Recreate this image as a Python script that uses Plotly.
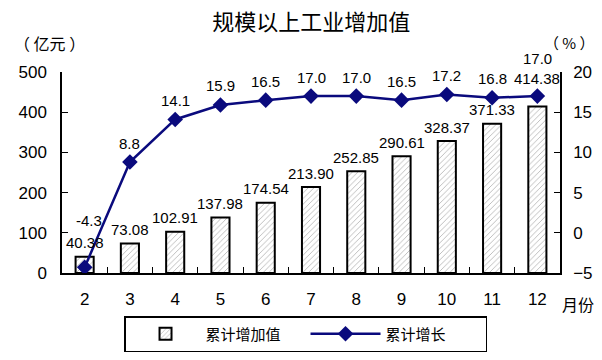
import plotly.graph_objects as go

months = ["2", "3", "4", "5", "6", "7", "8", "9", "10", "11", "12"]
value_added = [40.38, 73.08, 102.91, 137.98, 174.54, 213.90, 252.85, 290.61, 328.37, 371.33, 414.38]
growth = [-4.3, 8.8, 14.1, 15.9, 16.5, 17.0, 17.0, 16.5, 17.2, 16.8, 17.0]
left_ticks = [0, 100, 200, 300, 400, 500]
right_ticks = [-5, 0, 5, 10, 15, 20]

NUM_FONT = "Liberation Sans, Arial, sans-serif"
CJK_FONT = "Noto Sans CJK SC, sans-serif"
NAVY = "#0a0a7d"

fig = go.Figure()
fig.add_trace(go.Bar(
    x=months, y=value_added, name="累计增加值",
    width=0.4,
    marker=dict(color="white", line=dict(color="black", width=2),
                pattern=dict(shape="/", fgcolor="#606060", bgcolor="white", size=4, solidity=0.2)),
    yaxis="y",
))
fig.add_trace(go.Scatter(
    x=months, y=growth, name="累计增长", mode="lines+markers",
    line=dict(color=NAVY, width=2.5),
    marker=dict(symbol="diamond", size=12, color=NAVY),
    yaxis="y2",
))

annotations = []
n = len(months)
for i, v in enumerate(value_added):
    shift = 28 if i == n - 1 else 14
    annotations.append(dict(x=i, y=v, xref="x", yref="y", text=f"{v:.2f}", showarrow=False,
                            yshift=shift, font=dict(family=NUM_FONT, size=15, color="black")))
for i, g in enumerate(growth):
    shift = 19
    if i == 0:
        shift = 47
    elif i == n - 1:
        shift = 38
    annotations.append(dict(x=i, y=g, xref="x", yref="y2", text=f"{g:.1f}", showarrow=False,
                            yshift=shift, xshift=4 if i == 0 else 0,
                            font=dict(family=NUM_FONT, size=15, color="black")))

annotations += [
    dict(x=-0.026, y=1.144, xref="paper", yref="paper", xanchor="center", yanchor="middle",
         text="（ 亿元 ）", showarrow=False, font=dict(family=CJK_FONT, size=16, color="black")),
    dict(x=1.02, y=1.149, xref="paper", yref="paper", xanchor="center", yanchor="middle",
         text="（ % ）", showarrow=False, font=dict(family=CJK_FONT, size=15, color="black")),
    dict(x=1.036, y=-0.152, xref="paper", yref="paper", xanchor="center", yanchor="middle",
         text="月份", showarrow=False, font=dict(family=CJK_FONT, size=16, color="black")),
]

fig.update_layout(
    width=602, height=360,
    margin=dict(l=62, r=42, t=72, b=87, autoexpand=False),
    paper_bgcolor="white", plot_bgcolor="white",
    title=dict(text="规模以上工业增加值", x=0.517, xanchor="center", y=1 - 22 / 360, yanchor="middle",
               font=dict(family=CJK_FONT, size=22, color="black")),
    showlegend=True,
    legend=dict(orientation="h", x=0.489, xanchor="center", y=-0.214, yanchor="top",
                bordercolor="black", borderwidth=1.5, font=dict(family=CJK_FONT, size=15, color="black"),
                itemwidth=70, entrywidth=95, traceorder="normal"),
    xaxis=dict(type="category", range=[-0.5, n - 0.5], showline=True, linecolor="black", linewidth=1.5,
               mirror=False, automargin=False,
               ticks="inside", tickson="boundaries", ticklen=6, tickcolor="black",
               showgrid=False, ticklabelstandoff=10,
               tickfont=dict(family=NUM_FONT, size=17, color="black")),
    yaxis=dict(range=[0, 500], tickvals=left_ticks, showline=True, linecolor="black", linewidth=1.5,
               ticks="inside", ticklen=6, tickcolor="black", showgrid=False, zeroline=False,
               ticklabelstandoff=10, automargin=False,
               tickfont=dict(family=NUM_FONT, size=17, color="black")),
    yaxis2=dict(range=[-5, 20], tickvals=right_ticks, overlaying="y", side="right", showline=True,
                linecolor="black", linewidth=1.5, ticks="inside", ticklen=6, tickcolor="black",
                showgrid=False, zeroline=False, ticklabelstandoff=8, automargin=False,
                tickfont=dict(family=NUM_FONT, size=17, color="black")),
    annotations=annotations,
)

fig.write_html("out.html", config={"displayModeBar": False},
               post_script="document.body.style.margin='0';document.body.style.overflow='hidden';")
